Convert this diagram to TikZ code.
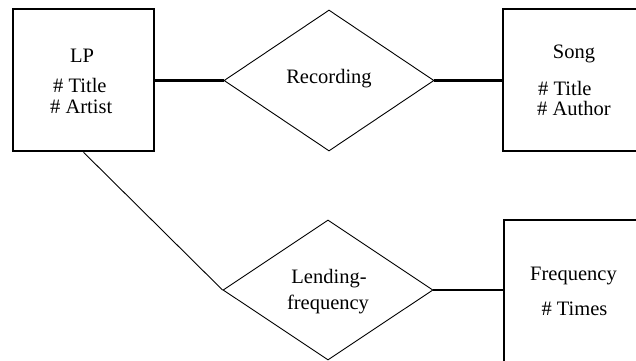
\documentclass[tikz,border=0pt]{standalone}
\usepackage{fontspec}
\setmainfont{Liberation Serif}
\usetikzlibrary{shapes.geometric}
\begin{document}
\begin{tikzpicture}[x=1pt,y=-1pt,
  entity/.style={draw,line width=2.5pt,inner sep=0pt,minimum width=#1,anchor=center},
  relation/.style={draw,diamond,line width=0.9pt,inner sep=0pt,minimum width=210pt,minimum height=141pt},
  txt/.style={inner sep=0pt,font=\fontsize{20.5}{24}\selectfont},
  thickcon/.style={line width=2.4pt},
  thincon/.style={line width=0.9pt}]
\useasboundingbox (0,0) rectangle (636,360);
\clip (0,0) rectangle (636,360);
\fill[white] (0,0) rectangle (636,360);
% entities
\node[entity=141pt,minimum height=142pt] (lp) at (83.5,80) {};
\node[entity=142pt,minimum height=142pt] (song) at (574,80) {};
\node[entity=141pt,minimum height=150pt] (freq) at (574.5,295) {};
% relations
\node[relation] (rec) at (329,80.5) {};
\node[relation,minimum height=140pt] (lend) at (328,290) {};
% texts
\node[txt,anchor=base] (lpname) at (82,62) {LP};
\node[txt,anchor=base west] (lpa1) at (53,92) {\# Title};
\node[txt,anchor=base west] (lpa2) at (50,113) {\# Artist};
\node[txt,anchor=base] (songname) at (574,58) {Song};
\node[txt,anchor=base west] (songa1) at (538,95) {\# Title};
\node[txt,anchor=base west] (songa2) at (537,115) {\# Author};
\node[txt,anchor=base] (recname) at (329,83) {Recording};
\node[txt,anchor=base] (lendname1) at (329,283) {Lending-};
\node[txt,anchor=base] (lendname2) at (328,309) {frequency};
\node[txt,anchor=base] (freqname) at (573.5,280) {Frequency};
\node[txt,anchor=base] (freqa1) at (574.5,315) {\# Times};
% connectors
\draw[thickcon] (lp.east |- rec.west) -- (rec.west);
\draw[thickcon] (rec.east) -- (rec.east -| song.west);
\draw[thincon] (lp.south) -- (lend.west);
\draw[thickcon] (lend.east) -- (lend.east -| freq.west);
\end{tikzpicture}
\end{document}
